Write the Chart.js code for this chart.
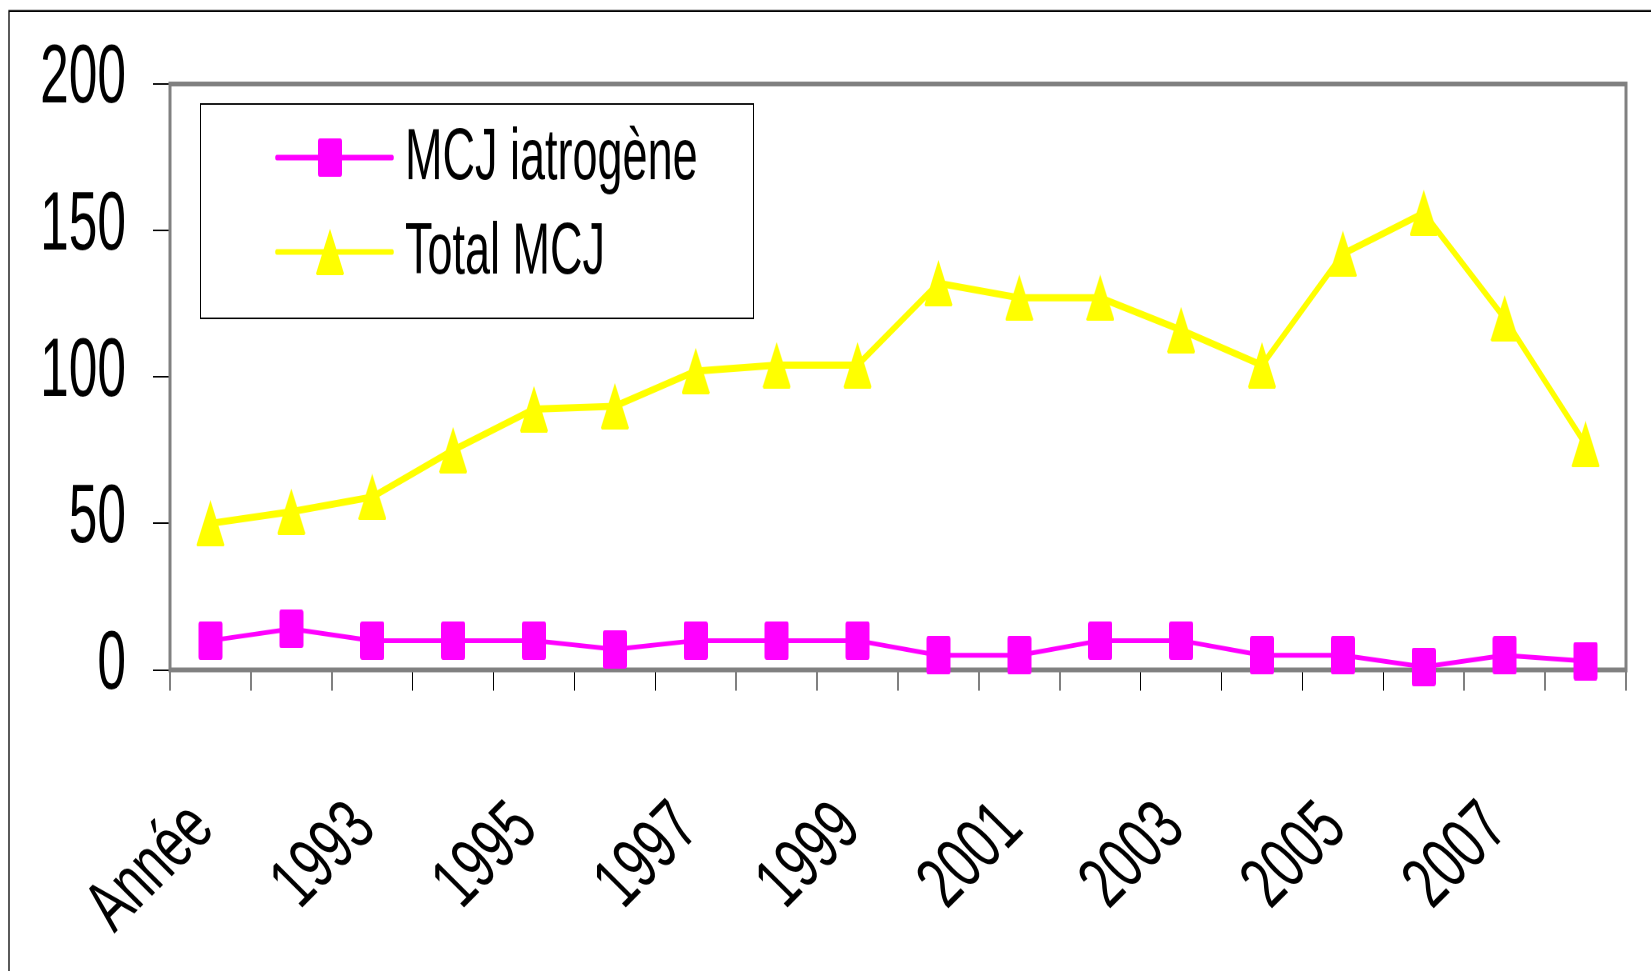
<!DOCTYPE html>
<html>
<head>
<meta charset="utf-8">
<script src="https://cdn.jsdelivr.net/npm/chart.js@4.4.1/dist/chart.umd.min.js"></script>
<style>
  html, body { margin: 0; padding: 0; background: #fff; overflow: hidden; }
  /* the original picture is a chart stretched vertically: draw it flat at 1651x607, show it at 1651x971 */
  #chart { display: block; width: 1651px; height: 971px; }
</style>
</head>
<body>
<canvas id="chart" width="1651" height="607" style="width:1651px;height:971px"></canvas>
<script>
const years = ["Année", "1992", "1993", "1994", "1995", "1996", "1997", "1998", "1999",
               "2000", "2001", "2002", "2003", "2004", "2005", "2006", "2007", "2008"];
const iatrogene = [10, 14, 10, 10, 10, 7, 10, 10, 10, 5, 5, 10, 10, 5, 5, 1, 5, 3];
const totalMCJ = [50, 54, 59, 75, 89, 90, 102, 104, 104, 132, 127, 127, 116, 104, 142, 156, 120, 77];
const yMin = 0, yMax = 200, yStep = 50;

const FONT = '"Liberation Sans", Arial, sans-serif';
const STRETCH = 971 / 607;

// marker drawn at 2x, shown at 1x so it stays sharp
function markerImage(w, h, color, shape) {
  const c = document.createElement("canvas");
  c.width = w * 2;
  c.height = h * 2;
  const g = c.getContext("2d");
  g.scale(2, 2);
  g.fillStyle = color;
  g.beginPath();
  if (shape === "square") {
    g.roundRect(0, 0, w, h, 2);
  } else {
    g.moveTo(w / 2, 0);
    g.lineTo(w, h - 1);
    g.lineTo(w - 1, h);
    g.lineTo(1, h);
    g.lineTo(0, h - 1);
    g.closePath();
  }
  g.fill();
  const img = new Image();
  img.src = c.toDataURL();
  img.width = w;
  img.height = h;
  return img;
}

const squareMark = markerImage(24, 24.5, "#ff00ff", "square");
const triangleMark = markerImage(28, 29, "#ffff00", "triangle");

// outer frame (only top and left edges are visible in the picture) and grey plot border
const frame = {
  id: "frame",
  beforeDraw(chart) {
    const ctx = chart.ctx;
    ctx.save();
    ctx.strokeStyle = "#000";
    ctx.lineWidth = 1.3;
    ctx.beginPath();
    ctx.moveTo(9, 607);
    ctx.lineTo(9, 6.9);
    ctx.lineTo(1651, 6.9);
    ctx.stroke();
    ctx.restore();
  },
  beforeDatasetsDraw(chart) {
    const a = chart.chartArea;
    const ctx = chart.ctx;
    ctx.save();
    ctx.strokeStyle = "#808080";
    ctx.lineWidth = 3;
    ctx.strokeRect(a.left, a.top, a.right - a.left, a.bottom - a.top);
    ctx.restore();
  }
};

// year labels: rotated 45deg on screen, narrow upright glyphs (undo the page stretch)
const yearLabels = {
  id: "yearLabels",
  afterDraw(chart) {
    const xs = chart.scales.x;
    const ctx = chart.ctx;
    ctx.save();
    ctx.fillStyle = "#000";
    ctx.font = "50px " + FONT;
    ctx.textAlign = "right";
    ctx.textBaseline = "alphabetic";
    years.forEach((label, i) => {
      if (i % 2 !== 0) return;
      ctx.save();
      ctx.translate(xs.getPixelForTick(i) + 6, xs.top + 101);
      ctx.scale(1, 1 / STRETCH);
      ctx.rotate(-Math.PI / 4);
      ctx.scale(1, 1.45);
      ctx.fillText(label, 0, 0);
      ctx.restore();
    });
    ctx.restore();
  }
};

// Excel-like legend: line through marker, boxed, top left of the plot
const boxLegend = {
  id: "boxLegend",
  afterDatasetsDraw(chart) {
    const ctx = chart.ctx;
    ctx.save();
    ctx.fillStyle = "#fff";
    ctx.fillRect(200, 65, 553, 134);
    ctx.strokeStyle = "#000";
    ctx.lineWidth = 1;
    ctx.strokeRect(200.5, 65, 553, 134);
    chart.data.datasets.forEach((ds, i) => {
      const cy = 98.5 + i * 59;
      ctx.strokeStyle = ds.borderColor;
      ctx.lineWidth = 3.6;
      ctx.lineCap = "round";
      ctx.beginPath();
      ctx.moveTo(277, cy);
      ctx.lineTo(392, cy);
      ctx.stroke();
      const m = ds.pointStyle;
      ctx.drawImage(m, 330 - m.width / 2, cy - m.height / 2, m.width, m.height);
      ctx.fillStyle = "#000";
      ctx.font = "45px " + FONT;
      ctx.textBaseline = "middle";
      ctx.fillText(ds.label, 405, cy + 1);
    });
    ctx.restore();
  }
};

function draw() {
  new Chart(document.getElementById("chart"), {
    type: "line",
    data: {
      labels: years,
      datasets: [
        {
          label: "MCJ iatrogène",
          data: iatrogene,
          borderColor: "#ff00ff",
          backgroundColor: "#ff00ff",
          borderWidth: 3,
          pointStyle: squareMark,
          clip: false
        },
        {
          label: "Total MCJ",
          data: totalMCJ,
          borderColor: "#ffff00",
          backgroundColor: "#ffff00",
          borderWidth: 4.5,
          pointStyle: triangleMark,
          clip: false
        }
      ]
    },
    options: {
      responsive: false,
      animation: false,
      devicePixelRatio: 2,
      layout: { padding: { top: 52.5, right: 25, left: 0, bottom: 0 } },
      plugins: {
        legend: { display: false },
        tooltip: { enabled: false }
      },
      scales: {
        x: {
          offset: true,
          grid: {
            offset: true,
            drawOnChartArea: false,
            drawTicks: true,
            tickLength: 13,
            color: "#000",
            lineWidth: 1
          },
          border: { display: false },
          ticks: { display: false },
          afterFit(scale) {
            scale.height = 188.25;
            scale.paddingLeft = 0;
            scale.paddingRight = 0;
          }
        },
        y: {
          min: yMin,
          max: yMax,
          grid: {
            drawOnChartArea: false,
            drawTicks: true,
            tickLength: 17,
            color: "#000",
            lineWidth: 1
          },
          border: { display: false },
          ticks: {
            stepSize: yStep,
            padding: 27,
            labelOffset: -2.5,
            color: "#000",
            font: { family: FONT, size: 51.5 }
          },
          afterFit(scale) {
            scale.width = 170;
            scale.paddingTop = 0;
            scale.paddingBottom = 0;
          }
        }
      }
    },
    plugins: [frame, boxLegend, yearLabels]
  });
}

Promise.all([squareMark.decode(), triangleMark.decode()]).then(draw, draw);
</script>
</body>
</html>
